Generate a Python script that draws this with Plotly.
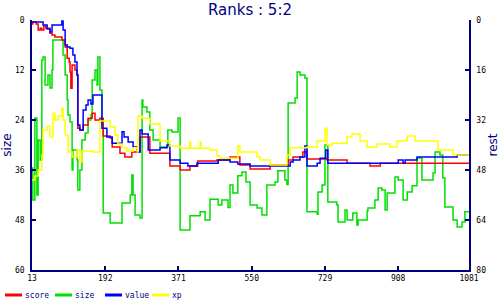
import plotly.graph_objects as go

# ---- data (turn, rank) ----
size_x = [13, 15, 20, 25, 28, 33, 37, 40, 45, 52, 57, 62, 64, 89, 94, 99, 101, 106, 111, 113,
          123, 125, 130, 135, 143, 150, 157, 160, 167, 172, 174, 179, 184, 187, 204, 233, 253,
          257, 260, 265, 277, 282, 284, 294, 301, 309, 326, 345, 355, 370, 375, 399, 424, 436,
          448, 468, 477, 492, 497, 504, 516, 526, 536, 546, 563, 575, 587, 607, 614, 631, 636,
          639, 656, 661, 668, 680, 685, 710, 712, 722, 729, 736, 758, 761, 778, 783, 797, 807,
          810, 832, 834, 851, 859, 868, 876, 881, 900, 908, 920, 930, 942, 954, 966, 993, 998,
          1010, 1017, 1022, 1042, 1052, 1064, 1071, 1081]
size_y = [35.5, 43.2, 23.5, 42, 28.8, 33.6, 9.6, 8.9, 15.6, 13.2, 16.3, 12, 4.8, 8.4, 13.2,
          19.2, 22.8, 24.5, 36, 31.2, 33.6, 40.8, 36, 28.8, 27.1, 24, 22.8, 14.4, 12, 15.6, 8.9,
          16.8, 25.2, 46.3, 48.7, 43.9, 42, 37.2, 42, 46.8, 47.5, 19.2, 20.9, 22.1, 26.4, 28.8,
          30.5, 26.4, 26.9, 23.5, 50.4, 47, 46, 48, 43, 44.4, 43.2, 45, 39.6, 41.5, 37.4, 36.5,
          38.9, 44.4, 45.1, 46.8, 39.6, 38.9, 36.2, 38.4, 39.5, 19.9, 18.7, 12.5, 13.2, 13.9,
          46, 46.6, 41.3, 39.6, 30, 43.7, 44.4, 48.5, 45.6, 48, 46.3, 49.2, 48, 45.8, 45.1, 43.2,
          40.3, 40.8, 45.6, 41.5, 37.7, 38.4, 43.2, 41.3, 39.8, 33.1, 38.4, 36.7, 31.7, 32.4,
          37.9, 44.9, 48, 49.7, 48.5, 46, 46]

score_x = [13, 15, 23, 28, 33, 37, 42, 47, 57, 62, 69, 86, 94, 99, 104, 106, 108, 111, 118,
           123, 125, 130, 138, 150, 160, 167, 179, 187, 204, 209, 228, 240, 257, 277, 301, 350,
           375, 399, 418, 465, 497, 521, 546, 595, 639, 651, 675, 685, 734, 783, 839, 864, 1081]
score_y = [1.3, 0.6, 1.3, 3.2, 2.6, 3.2, 1.9, 2.6, 4.2, 4.8, 5.4, 6.4, 8.6, 12.2, 13.4, 16.6,
           21.8, 14.4, 16, 17.6, 34.6, 35.2, 33.6, 31.4, 29.8, 32, 31.4, 37.1, 37.8, 40.6, 42.6,
           43.8, 42.2, 37.4, 42.6, 46.7, 48, 46.7, 45.1, 44.8, 43.8, 46.4, 47.7, 46.4, 44.8,
           43.8, 42.2, 44.5, 44.8, 45.8, 46.7, 45.8, 45.8]

value_x = [13, 40, 50, 57, 62, 86, 89, 94, 99, 106, 113, 118, 123, 125, 130, 138, 145, 150,
           157, 162, 184, 196, 209, 233, 238, 248, 260, 270, 277, 282, 297, 326, 343, 350, 375,
           394, 416, 468, 497, 516, 546, 644, 651, 668, 680, 685, 710, 717, 731, 736, 908, 920,
           925, 954, 1052, 1081]
value_y = [0.6, 1.6, 2.9, 3.8, 1.6, 0.3, 3.2, 8, 8.6, 9, 11.2, 13.4, 17.6, 33.6, 35.2, 28.8,
           27.2, 25.6, 26.9, 24, 34.6, 37.4, 39.4, 35.8, 37.4, 39, 40.6, 42.2, 35.2, 36.5, 41.6,
           40.9, 40, 44.8, 45.8, 46.7, 45.8, 44.8, 45.4, 46.1, 46.7, 45.4, 44.8, 43.8, 40.3,
           46.7, 45.8, 44.2, 41.6, 45.8, 44.8, 45.8, 44.8, 43.8, 43.2, 43.2]

xp_x = [13, 20, 28, 37, 40, 50, 57, 64, 69, 77, 86, 89, 94, 101, 111, 123, 130, 135, 160,
        179, 204, 216, 223, 233, 245, 260, 270, 272, 282, 301, 326, 350, 375, 399, 401, 424,
        426, 448, 465, 472, 516, 521, 563, 570, 595, 636, 644, 685, 710, 729, 734, 746, 783,
        795, 815, 832, 856, 888, 905, 930, 949, 1005, 1042, 1081]
xp_y = [51.2, 49.9, 48, 43.2, 35.2, 34, 37.4, 29.8, 32, 30.7, 28.2, 32, 36.8, 42.2, 43.8, 41.6,
        45.4, 41.9, 42.2, 32.3, 34.2, 36.8, 39.7, 40.9, 41.9, 40.9, 42.2, 30.7, 31.4, 33.3,
        38.7, 40.3, 41, 39, 41, 39, 41, 41.6, 43.5, 44.2, 40.3, 42.2, 43.8, 44.8, 46.4, 43.2,
        40.9, 40.6, 38.7, 34.6, 40, 39.4, 37.4, 36.5, 38.7, 40.6, 39.7, 40.6, 38.7, 37.1, 38.7,
        41.6, 43.2, 43.2]

x_ticks = [13, 192, 371, 550, 729, 908, 1081]
size_ticks = [0, 12, 24, 36, 48, 60]
rest_ticks = [0, 16, 32, 48, 64, 80]

names = ["score", "size", "value", "xp"]
colors = ["#ff0000", "#00e000", "#0000ff", "#ffff00"]
series = [(score_x, score_y, "y2"), (size_x, size_y, "y"), (value_x, value_y, "y2"), (xp_x, xp_y, "y2")]

NAVY = "#000080"
W, H = 500, 300
L, R, T, B = 32, 31, 20, 30
pw, ph = W - L - R, H - T - B

fig = go.Figure()
for (xs, ys, ax), name, col in zip(series, names, colors):
    fig.add_trace(go.Scatter(x=xs, y=ys, yaxis=ax, name=name, mode="lines",
                             line=dict(color=col, width=1.5, shape="hv"), showlegend=False))

tickfont = dict(family="DejaVu Sans Mono", size=8, color="black")
axis_common = dict(showline=True, linecolor=NAVY, linewidth=1.5, ticks="inside", ticklen=4,
                   tickcolor=NAVY, tickwidth=1.5, showgrid=False, zeroline=False, tickfont=tickfont,
                   automargin=False)

fig.update_layout(
    width=W, height=H, margin=dict(l=L, r=R, t=T, b=B),
    paper_bgcolor="white", plot_bgcolor="white",
    title=dict(text="Ranks : 5:2", x=0.5, xanchor="center", y=0.985, yanchor="top",
               font=dict(family="DejaVu Sans", size=15, color=NAVY)),
    xaxis=dict(range=[13, 1081], tickvals=x_ticks, **axis_common),
    yaxis=dict(range=[60, 0], tickvals=size_ticks, ticklabelstandoff=4,
               title=dict(text="size", font=dict(family="DejaVu Sans", size=12, color=NAVY), standoff=3),
               **axis_common),
    yaxis2=dict(range=[80, 0], tickvals=rest_ticks, overlaying="y", side="right", ticklabelstandoff=4,
                title=dict(text="rest", font=dict(family="DejaVu Sans", size=12, color=NAVY), standoff=9),
                **axis_common),
    showlegend=False,
)

# legend drawn along the bottom
leg_start = [5, 55, 105, 152]
for name, col, sx in zip(names, colors, leg_start):
    x0 = (sx - L) / pw
    x1 = (sx + 17 - L) / pw
    yy = (H - B - 295) / ph
    fig.add_shape(type="line", xref="paper", yref="paper", x0=x0, x1=x1, y0=yy, y1=yy,
                  line=dict(color=col, width=3))
    fig.add_annotation(xref="paper", yref="paper", x=x1, y=yy, text=name, showarrow=False,
                       xanchor="left", yanchor="middle", xshift=1,
                       font=dict(family="DejaVu Sans Mono", size=8, color=NAVY))

fig.write_html("out.html")
